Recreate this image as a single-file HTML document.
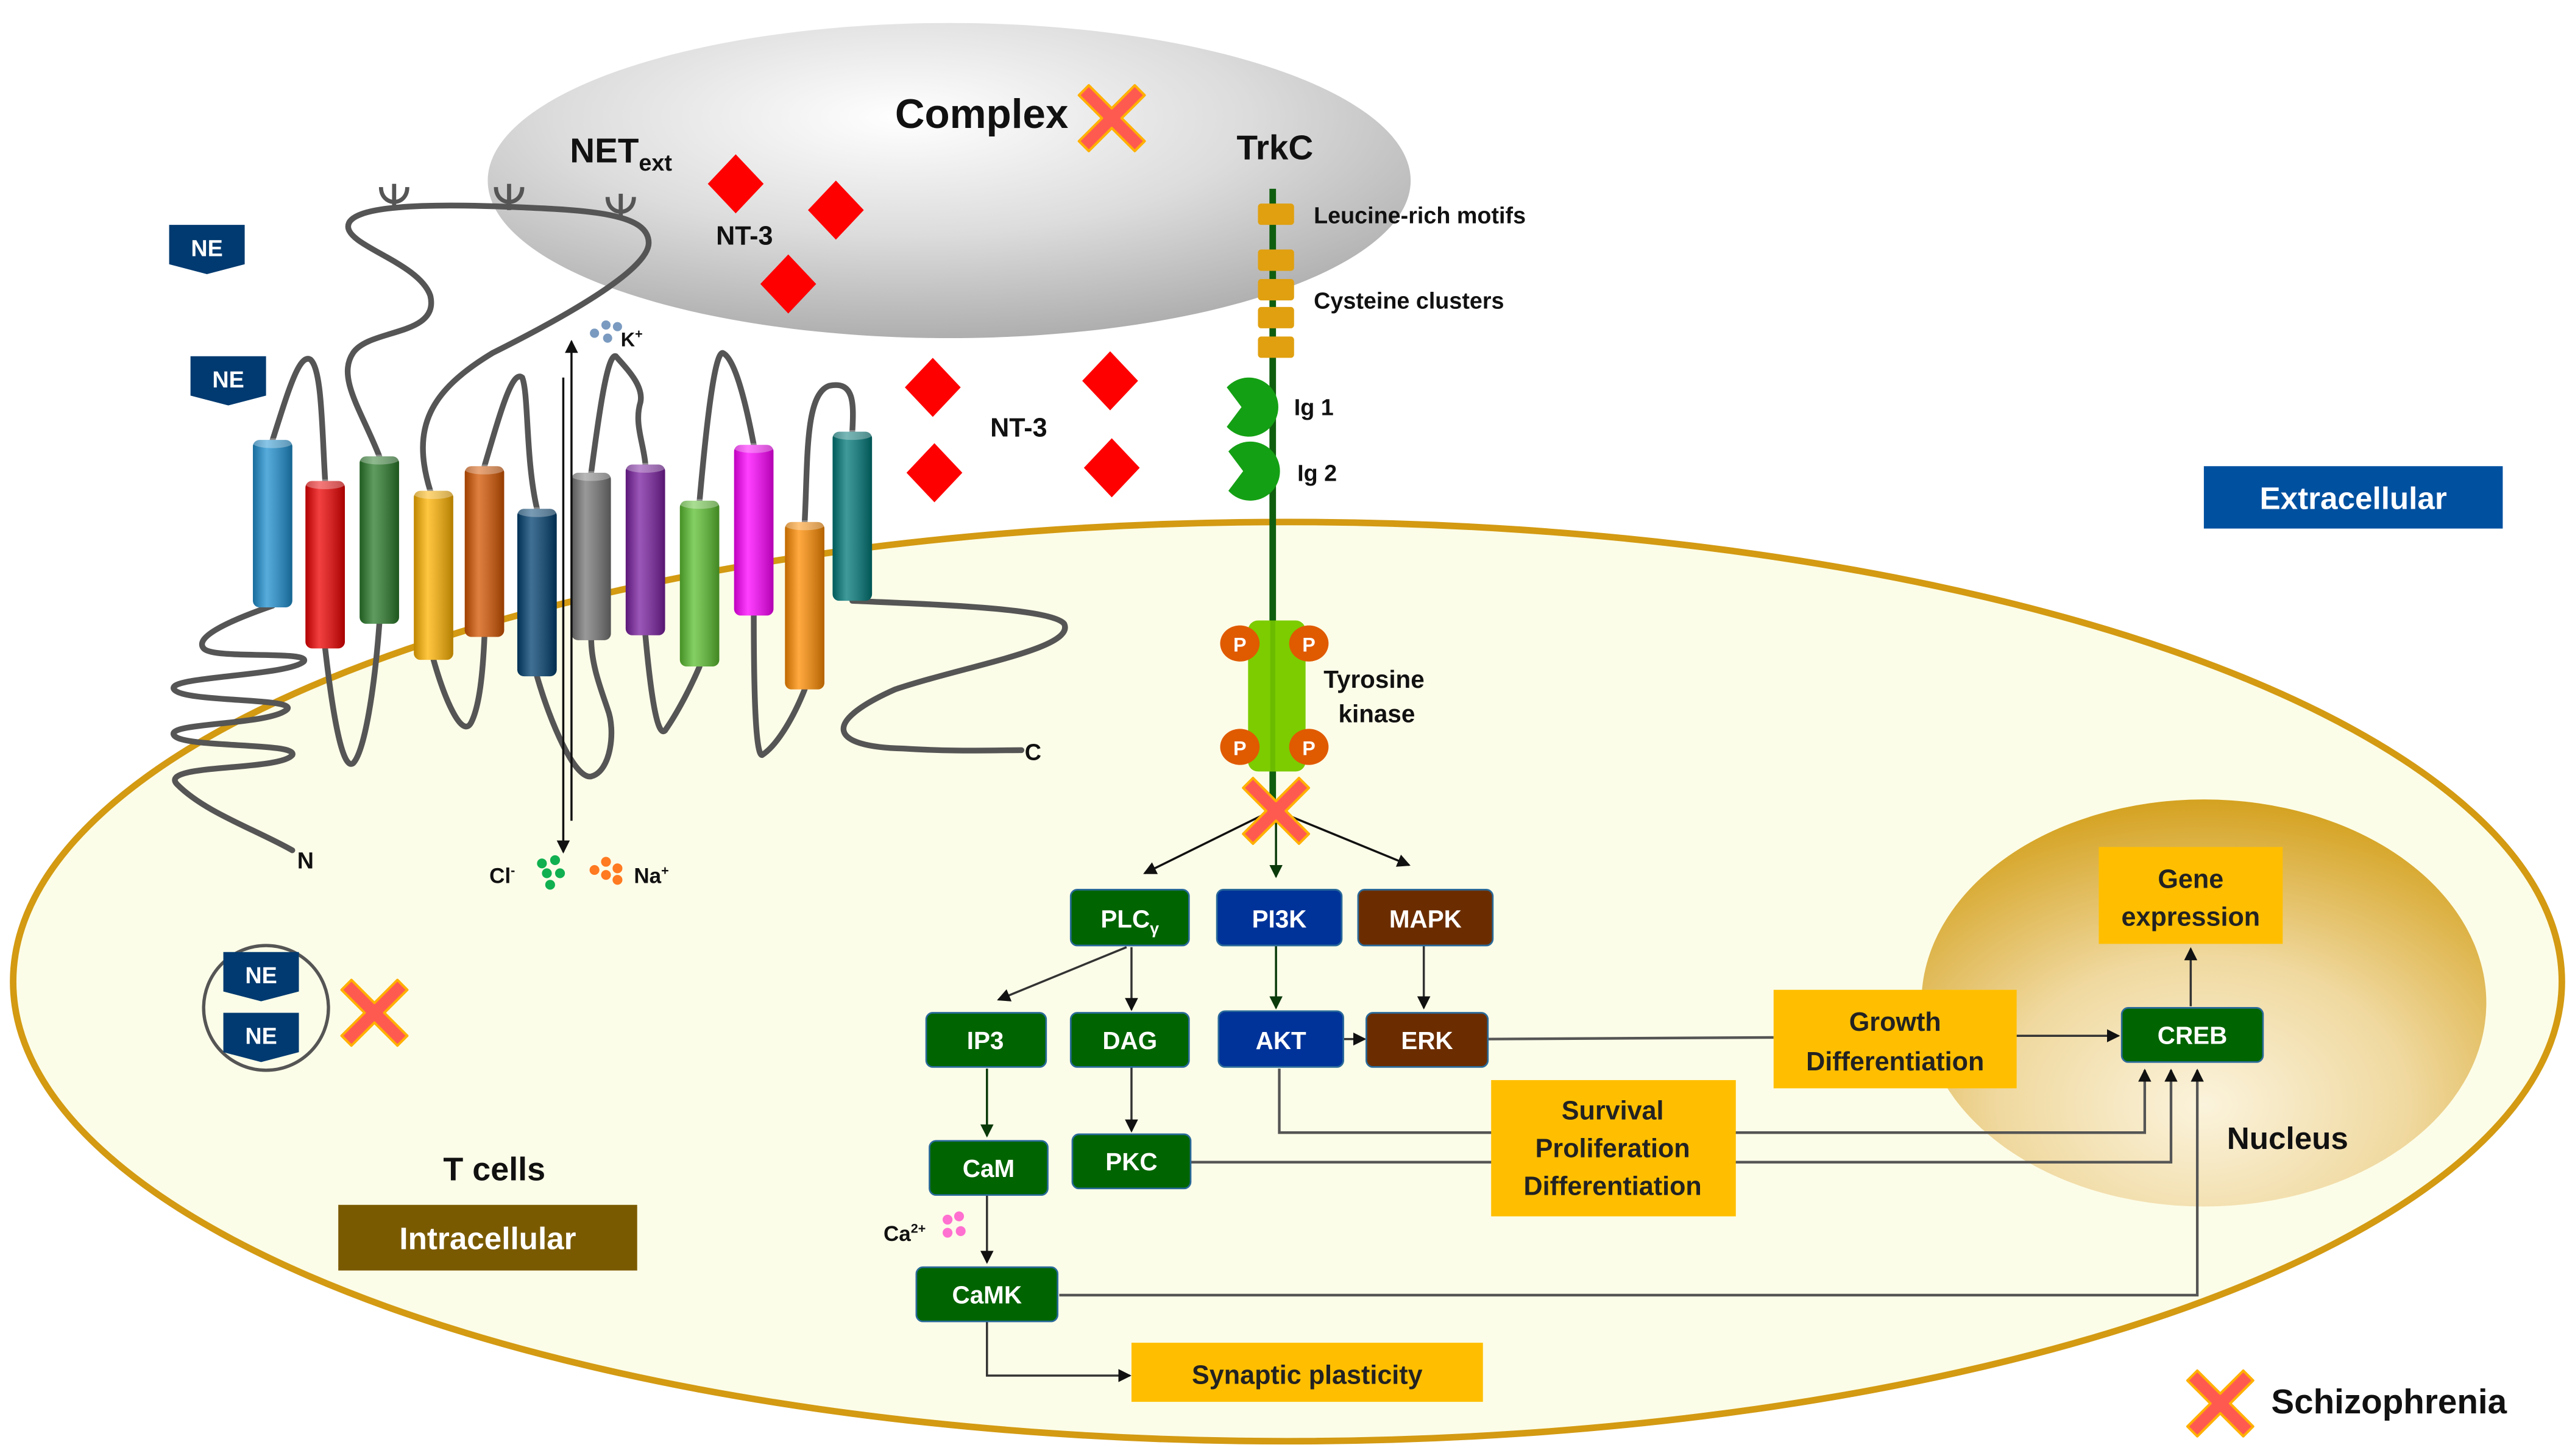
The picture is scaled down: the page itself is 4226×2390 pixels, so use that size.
<!DOCTYPE html>
<html><head><meta charset="utf-8"><style>
html,body{margin:0;padding:0;background:#fff;}
svg{display:block;}
text{font-family:"Liberation Sans",sans-serif;font-weight:bold;}
</style></head><body>
<svg width="4226" height="2390" viewBox="0 0 1568 887" preserveAspectRatio="none" xmlns="http://www.w3.org/2000/svg">
<defs>
<radialGradient id="gray" cx="0.45" cy="0.3" r="0.75">
<stop offset="0" stop-color="#ffffff"/><stop offset="0.5" stop-color="#dcdcdc"/><stop offset="1" stop-color="#a8a8a8"/>
</radialGradient>
<radialGradient id="nuc" cx="0.5" cy="0.75" r="0.8">
<stop offset="0" stop-color="#fbf3dc"/><stop offset="0.45" stop-color="#f0d9a0"/><stop offset="1" stop-color="#d19b10"/>
</radialGradient>
<linearGradient id="shade" x1="0" x2="1" y1="0" y2="0">
<stop offset="0" stop-color="#000" stop-opacity="0.25"/><stop offset="0.35" stop-color="#fff" stop-opacity="0.25"/><stop offset="1" stop-color="#000" stop-opacity="0.3"/>
</linearGradient>
<marker id="ah" markerWidth="8" markerHeight="8" refX="7" refY="4" orient="auto" markerUnits="userSpaceOnUse"><path d="M0,0 L8,4 L0,8 Z" fill="#111"/></marker>
<marker id="ahg" markerWidth="8" markerHeight="8" refX="7" refY="4" orient="auto" markerUnits="userSpaceOnUse"><path d="M0,0 L8,4 L0,8 Z" fill="#0a3a0a"/></marker>
<g id="X"><path d="M-14,-20 L0,-6 L14,-20 L20,-14 L6,0 L20,14 L14,20 L0,6 L-14,20 L-20,14 L-6,0 L-20,-14 Z" fill="#ff5a50" stroke="#ffb000" stroke-width="1.5" stroke-linejoin="round"/></g>
<g id="NE"><path d="M-23,-14 H23 V10 L0,16 L-23,10 Z" fill="#003a70"/><text x="0" y="5" font-size="14" fill="#fff" text-anchor="middle">NE</text></g>
<g id="dia"><path d="M0,-18 L17,0 L0,18 L-17,0 Z" fill="#ff0000"/></g>
</defs>

<!-- cell -->
<ellipse cx="784" cy="598" rx="776" ry="280" fill="#fcfde8" stroke="#d39a12" stroke-width="4"/>
<!-- complex ellipse -->
<ellipse cx="578" cy="110" rx="281" ry="96" fill="url(#gray)"/>
<!-- nucleus -->
<ellipse cx="1342" cy="611" rx="172" ry="124" fill="url(#nuc)"/>

<!-- top texts -->
<text x="545" y="78" font-size="25" fill="#111">Complex</text>
<use href="#X" x="677" y="72"/>
<text x="347" y="99" font-size="21" fill="#111">NET<tspan font-size="14" dy="5">ext</tspan></text>
<text x="753" y="97" font-size="21" fill="#111">TrkC</text>

<!-- NT-3 -->
<use href="#dia" x="448" y="112"/><use href="#dia" x="509" y="128"/><use href="#dia" x="480" y="173"/>
<use href="#dia" x="568" y="236"/><use href="#dia" x="676" y="232"/><use href="#dia" x="569" y="288"/><use href="#dia" x="677" y="285"/>
<text x="436" y="149" font-size="16" fill="#111">NT-3</text>
<text x="603" y="266" font-size="16" fill="#111">NT-3</text>

<!-- TrkC -->
<line x1="775" y1="115" x2="775" y2="500" stroke="#0f5e0f" stroke-width="4"/>
<g fill="#e0a010">
<rect x="766" y="124" width="22" height="13" rx="2"/><rect x="766" y="152" width="22" height="13" rx="2"/><rect x="766" y="170" width="22" height="13" rx="2"/><rect x="766" y="187" width="22" height="13" rx="2"/><rect x="766" y="205" width="22" height="13" rx="2"/>
</g>
<text x="800" y="136" font-size="14" fill="#111">Leucine-rich motifs</text>
<text x="800" y="188" font-size="14" fill="#111">Cysteine clusters</text>
<path d="M747,236 A18,18 0 1 1 747,260 L756,248 Z" fill="#14a014"/>
<path d="M748,275 A18,18 0 1 1 748,299 L757,287 Z" fill="#14a014"/>
<text x="788" y="253" font-size="14" fill="#111">Ig 1</text>
<text x="790" y="293" font-size="14" fill="#111">Ig 2</text>
<rect x="760" y="378" width="35" height="92" rx="6" fill="#7ccc00"/>
<line x1="775" y1="378" x2="775" y2="470" stroke="#6bbb00" stroke-width="3"/>
<g fill="#e05a00">
<ellipse cx="755" cy="392" rx="12" ry="11"/><ellipse cx="797" cy="392" rx="12" ry="11"/><ellipse cx="755" cy="455" rx="12" ry="11"/><ellipse cx="797" cy="455" rx="12" ry="11"/>
</g>
<g font-size="12" fill="#fff" text-anchor="middle">
<text x="755" y="397">P</text><text x="797" y="397">P</text><text x="755" y="460">P</text><text x="797" y="460">P</text>
</g>
<text x="806" y="419" font-size="15" fill="#111" font-weight="normal">Tyrosine</text>
<text x="815" y="440" font-size="15" fill="#111" font-weight="normal">kinase</text>

<!-- arrows from TrkC -->
<g stroke="#111" stroke-width="1.3" fill="none">
<line x1="768" y1="497" x2="697" y2="532" marker-end="url(#ah)"/>
<line x1="785" y1="497" x2="858" y2="527" marker-end="url(#ah)"/>
</g>
<line x1="777" y1="497" x2="777" y2="534" stroke="#0a3a0a" stroke-width="1.3" marker-end="url(#ahg)"/>
<use href="#X" x="777" y="494"/>

<!-- NET loops -->
<g stroke="#555" stroke-width="3.5" fill="none" stroke-linecap="round">
<path d="M166,369 C140,378 118,388 124,395 C130,402 190,396 185,403 C175,412 100,412 106,420 C112,428 180,425 175,432 C165,442 100,440 106,448 C112,456 182,452 178,460 C170,470 95,465 108,478 C125,495 155,505 178,518"/>
<path d="M166,268 C175,240 182,215 189,219 C196,225 196,260 198,293"/>
<path d="M198,395 C202,430 208,470 215,465 C222,458 228,420 231,380"/>
<path d="M231,278 C220,250 205,230 215,215 C225,200 268,205 262,180 C255,160 212,150 212,138 C212,125 260,124 310,126 C360,128 395,130 395,148 C395,165 340,195 300,215 C262,238 250,260 262,299"/>
<path d="M264,402 C272,430 282,450 287,440 C292,430 294,410 295,388"/>
<path d="M295,284 C305,250 312,225 318,230 C322,240 320,280 327,310"/>
<path d="M327,412 C335,440 350,475 360,473 C372,470 375,445 370,432 C366,420 360,405 360,389"/>
<path d="M360,288 C365,250 370,215 375,217 C382,225 392,235 390,245 C386,258 392,270 393,283"/>
<path d="M393,387 C396,420 400,450 405,445 C412,435 420,420 426,406"/>
<path d="M426,305 C430,260 435,215 440,215 C448,218 455,250 459,271"/>
<path d="M459,375 C459,420 460,460 464,460 C472,455 482,440 490,420"/>
<path d="M490,318 C492,280 490,240 505,235 C520,232 520,245 519,263"/>
<path d="M519,366 C560,368 640,370 648,380 C655,395 590,405 545,420 C500,440 505,455 550,456 C580,458 605,457 622,457"/>
</g>
<g stroke="#555" stroke-width="2.5" fill="none">
<path d="M240,128 V112 M232,114 C232,126 248,126 248,114"/>
<path d="M310,128 V112 M302,114 C302,126 318,126 318,114"/>
<path d="M378,134 V118 M370,120 C370,132 386,132 386,120"/>
</g>
<text x="181" y="529" font-size="14" fill="#111">N</text>
<text x="624" y="463" font-size="14" fill="#111">C</text>

<!-- helices -->
<g>
<rect x="154" y="268" width="24" height="102" rx="4" fill="#1e90d0"/>
<rect x="186" y="293" width="24" height="102" rx="4" fill="#ee0000"/>
<rect x="219" y="278" width="24" height="102" rx="4" fill="#2a7a2a"/>
<rect x="252" y="299" width="24" height="103" rx="4" fill="#ffb300"/>
<rect x="283" y="284" width="24" height="104" rx="4" fill="#d45500"/>
<rect x="315" y="310" width="24" height="102" rx="4" fill="#004070"/>
<rect x="348" y="288" width="24" height="102" rx="4" fill="#777777"/>
<rect x="381" y="283" width="24" height="104" rx="4" fill="#7a1fa0"/>
<rect x="414" y="305" width="24" height="101" rx="4" fill="#5cc030"/>
<rect x="447" y="271" width="24" height="104" rx="4" fill="#ff00ff"/>
<rect x="478" y="318" width="24" height="102" rx="4" fill="#ff8c00"/>
<rect x="507" y="263" width="24" height="103" rx="4" fill="#007878"/>
</g>
<g fill="url(#shade)">
<rect x="154" y="268" width="24" height="102" rx="4"/><rect x="186" y="293" width="24" height="102" rx="4"/><rect x="219" y="278" width="24" height="102" rx="4"/><rect x="252" y="299" width="24" height="103" rx="4"/><rect x="283" y="284" width="24" height="104" rx="4"/><rect x="315" y="310" width="24" height="102" rx="4"/><rect x="348" y="288" width="24" height="102" rx="4"/><rect x="381" y="283" width="24" height="104" rx="4"/><rect x="414" y="305" width="24" height="101" rx="4"/><rect x="447" y="271" width="24" height="104" rx="4"/><rect x="478" y="318" width="24" height="102" rx="4"/><rect x="507" y="263" width="24" height="103" rx="4"/>
</g>
<g fill="#fff" fill-opacity="0.3">
<ellipse cx="166" cy="270" rx="12" ry="3"/><ellipse cx="198" cy="295" rx="12" ry="3"/><ellipse cx="231" cy="280" rx="12" ry="3"/><ellipse cx="264" cy="301" rx="12" ry="3"/><ellipse cx="295" cy="286" rx="12" ry="3"/><ellipse cx="327" cy="312" rx="12" ry="3"/><ellipse cx="360" cy="290" rx="12" ry="3"/><ellipse cx="393" cy="285" rx="12" ry="3"/><ellipse cx="426" cy="307" rx="12" ry="3"/><ellipse cx="459" cy="273" rx="12" ry="3"/><ellipse cx="490" cy="320" rx="12" ry="3"/><ellipse cx="519" cy="265" rx="12" ry="3"/>
</g>

<!-- ion arrows -->
<line x1="348" y1="500" x2="348" y2="208" stroke="#111" stroke-width="1.3" marker-end="url(#ah)"/>
<line x1="343" y1="230" x2="343" y2="519" stroke="#111" stroke-width="1.3" marker-end="url(#ah)"/>
<g fill="#7a9ac0"><circle cx="362" cy="203" r="2.8"/><circle cx="369" cy="198" r="2.8"/><circle cx="376" cy="199" r="2.8"/><circle cx="370" cy="206" r="2.8"/></g>
<text x="378" y="211" font-size="12" fill="#111">K<tspan font-size="8" dy="-5">+</tspan></text>
<text x="298" y="538" font-size="13" fill="#111">Cl<tspan font-size="8" dy="-5">-</tspan></text>
<g fill="#10b050"><circle cx="330" cy="526" r="3"/><circle cx="338" cy="524" r="3"/><circle cx="333" cy="532" r="3"/><circle cx="341" cy="532" r="3"/><circle cx="335" cy="539" r="3"/></g>
<g fill="#ff7a20"><circle cx="362" cy="530" r="3"/><circle cx="369" cy="525" r="3"/><circle cx="376" cy="529" r="3"/><circle cx="369" cy="533" r="3"/><circle cx="376" cy="536" r="3"/></g>
<text x="386" y="538" font-size="13" fill="#111">Na<tspan font-size="8" dy="-5">+</tspan></text>

<!-- NE -->
<use href="#NE" x="126" y="151"/>
<use href="#NE" x="139" y="231"/>
<circle cx="162" cy="614" r="38" fill="none" stroke="#555" stroke-width="2"/>
<use href="#NE" x="159" y="594"/>
<use href="#NE" x="159" y="631"/>
<use href="#X" x="228" y="617"/>

<!-- labels -->
<text x="301" y="719" font-size="20" fill="#111" text-anchor="middle">T cells</text>
<rect x="206" y="734" width="182" height="40" fill="#7a5a00"/>
<text x="297" y="761" font-size="19" fill="#fff" text-anchor="middle">Intracellular</text>
<rect x="1342" y="284" width="182" height="38" fill="#0050a0"/>
<text x="1433" y="310" font-size="19" fill="#fff" text-anchor="middle">Extracellular</text>
<text x="1393" y="700" font-size="19" fill="#111" text-anchor="middle">Nucleus</text>
<use href="#X" x="1352" y="855"/>
<text x="1383" y="861" font-size="21" fill="#111">Schizophrenia</text>

<!-- pathway connectors -->
<g stroke="#333" stroke-width="1.3" fill="none">
<line x1="686" y1="577" x2="608" y2="609" marker-end="url(#ah)"/>
<line x1="689" y1="577" x2="689" y2="615" marker-end="url(#ah)"/>
<line x1="867" y1="576" x2="867" y2="614" marker-end="url(#ah)"/>
<line x1="818" y1="633" x2="831" y2="633" marker-end="url(#ah)"/>
<line x1="689" y1="650" x2="689" y2="689" marker-end="url(#ah)"/>
<line x1="601" y1="728" x2="601" y2="769" marker-end="url(#ah)"/>
<path d="M601,805 V838 H688" marker-end="url(#ah)"/>
<line x1="1334" y1="613" x2="1334" y2="578" marker-end="url(#ah)"/>
<line x1="1228" y1="631" x2="1290" y2="631" marker-end="url(#ah)"/>
</g>
<g stroke="#0a3a0a" stroke-width="1.3" fill="none">
<line x1="777" y1="576" x2="777" y2="614" marker-end="url(#ahg)"/>
<line x1="601" y1="651" x2="601" y2="692" marker-end="url(#ahg)"/>
</g>
<g stroke="#555" stroke-width="1.6" fill="none">
<path d="M906,633 L1080,632"/>
<path d="M779,651 V690 H1306 V652" marker-end="url(#ah)"/>
<path d="M725,708 H1322 V652" marker-end="url(#ah)"/>
<path d="M645,789 H1338 V652" marker-end="url(#ah)"/>
</g>

<!-- boxes -->
<g stroke="#2a6a9a" stroke-width="1">
<rect x="652" y="542" width="72" height="34" rx="4" fill="#006400"/>
<rect x="741" y="542" width="76" height="34" rx="4" fill="#003399"/>
<rect x="827" y="542" width="82" height="34" rx="4" fill="#6b2d00"/>
<rect x="564" y="617" width="73" height="33" rx="4" fill="#006400"/>
<rect x="652" y="617" width="72" height="33" rx="4" fill="#006400"/>
<rect x="742" y="616" width="76" height="34" rx="4" fill="#003399"/>
<rect x="832" y="617" width="74" height="33" rx="4" fill="#6b2d00"/>
<rect x="566" y="695" width="72" height="33" rx="4" fill="#006400"/>
<rect x="653" y="691" width="72" height="33" rx="4" fill="#006400"/>
<rect x="558" y="772" width="86" height="33" rx="4" fill="#006400"/>
<rect x="1292" y="614" width="86" height="33" rx="4" fill="#006400"/>
</g>
<g font-size="15" fill="#fff" text-anchor="middle">
<text x="688" y="565">PLC<tspan font-size="10" dy="4">γ</tspan></text>
<text x="779" y="565">PI3K</text>
<text x="868" y="565">MAPK</text>
<text x="600" y="639">IP3</text>
<text x="688" y="639">DAG</text>
<text x="780" y="639">AKT</text>
<text x="869" y="639">ERK</text>
<text x="602" y="717">CaM</text>
<text x="689" y="713">PKC</text>
<text x="601" y="794">CaMK</text>
<text x="1335" y="636">CREB</text>
</g>
<g fill="#ffbf00">
<rect x="1278" y="516" width="112" height="59"/>
<rect x="1080" y="603" width="148" height="60"/>
<rect x="908" y="658" width="149" height="83"/>
<rect x="689" y="818" width="214" height="36"/>
</g>
<g font-size="16" fill="#222" text-anchor="middle">
<text x="1334" y="541">Gene</text><text x="1334" y="564">expression</text>
<text x="1154" y="628">Growth</text><text x="1154" y="652">Differentiation</text>
<text x="982" y="682">Survival</text><text x="982" y="705">Proliferation</text><text x="982" y="728">Differentiation</text>
<text x="796" y="843">Synaptic plasticity</text>
</g>
<text x="538" y="756" font-size="13" fill="#111">Ca<tspan font-size="8" dy="-5">2+</tspan></text>
<g fill="#ff70d0"><circle cx="577" cy="743" r="3"/><circle cx="584" cy="741" r="3"/><circle cx="577" cy="751" r="3"/><circle cx="585" cy="750" r="3"/></g>
</svg>
</body></html>
